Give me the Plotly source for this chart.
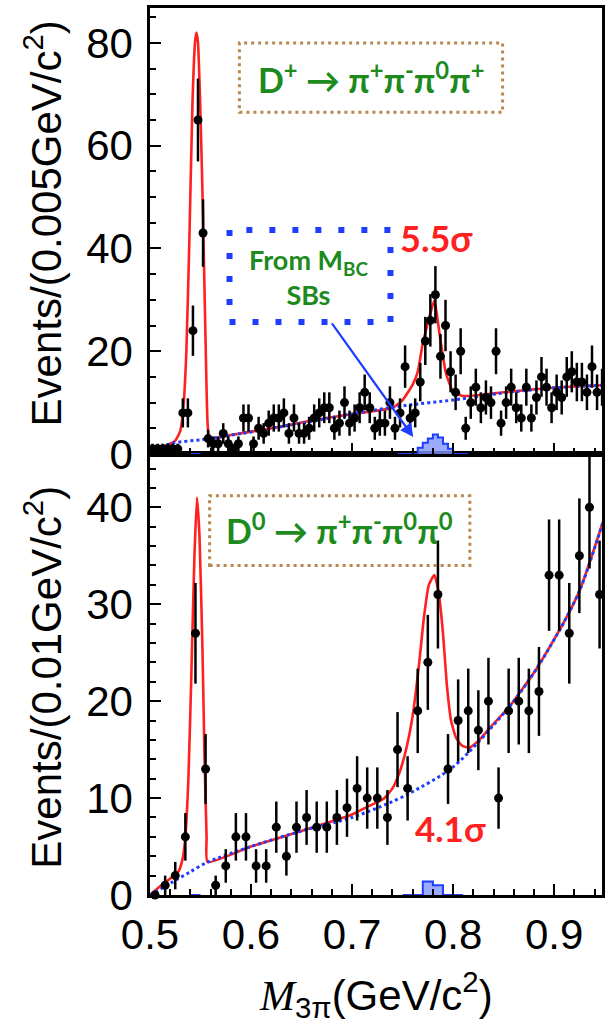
import numpy as np
import plotly.graph_objects as go

# ---------------- data ----------------
# top panel: D+ -> pi+ pi- pi0 pi+, bins of 0.005 GeV from 0.50
top_bin_start = 0.50
top_bin_width = 0.005
top_counts = [1, 1, 1, 1, 1, 1, 8, 8, 24, 65,
              43, 3, 2, 2, 4, 2, 1, 2, 7, 7,
              2, 5, 4, 6, 7, 7, 8, 4, 7, 4,
              4, 5, 7, 8, 9, 9, 5, 6, 10, 6,
              7, 9, 12, 9, 5, 6, 6, 10, 5, 8,
              17, 7, 8, 14, 22, 26, 31, 19, 25, 16,
              12, 20, 5, 10, 13, 9, 11, 10, 20, 6,
              10, 13, 9, 7, 13, 7, 11, 15, 13, 9,
              12, 11, 15, 16, 14, 14, 12, 17, 12, 13]

# bottom panel: D0 -> pi+ pi- pi0 pi0, bins of 0.01 GeV from 0.50
bot_bin_start = 0.50
bot_bin_width = 0.01
bot_counts = [0, 1, 2, 6, 27, 13, 1, 3, 6, 6,
              3, 3, 7, 4, 7, 8, 7, 7, 8, 9,
              11, 10, 10, 8, 15, 11, 19, 24, 31, 13,
              18, 19, 17, 20, 10, 19, 20, 19, 21, 33,
              33, 27, 35, 40, 31]

# fit curves
top_fit_x = [0.500, 0.510, 0.520, 0.525, 0.530, 0.533, 0.536, 0.539, 0.542, 0.5445, 0.546,
             0.5475, 0.550, 0.5525, 0.555, 0.557, 0.559, 0.580, 0.620, 0.660, 0.700, 0.720,
             0.740, 0.750, 0.760, 0.765, 0.770, 0.7765, 0.7815, 0.7865, 0.793, 0.7995,
             0.809, 0.8225, 0.850, 0.900, 0.950]
top_fit_y = [0.5, 1.2, 2.0, 2.6, 4.5, 9, 20, 42, 68, 80, 82,
             80, 66, 46, 22, 6, 3.0, 3.7, 5.0, 6.5, 7.8, 8.3,
             9.0, 10.5, 13.5, 16, 21.5, 26.6, 29.9, 23.5, 15.7, 12.4,
             11.3, 11.4, 12.0, 12.9, 13.4]
top_bkg_x = [0.500, 0.522, 0.552, 0.591, 0.650, 0.700, 0.734, 0.755, 0.800, 0.847, 0.896, 0.950]
top_bkg_y = [0.5, 2.1, 2.8, 4.0, 6.0, 7.8, 8.9, 9.5, 10.5, 11.8, 12.8, 13.4]

bot_fit_x = [0.500, 0.510, 0.520, 0.528, 0.532, 0.535, 0.538, 0.541, 0.544, 0.5465, 0.549,
             0.552, 0.554, 0.556, 0.557, 0.600, 0.650, 0.700, 0.715, 0.731, 0.740, 0.7465,
             0.753, 0.760, 0.766, 0.771, 0.776, 0.7815, 0.786, 0.790, 0.794, 0.798,
             0.803, 0.809, 0.816, 0.826, 0.836, 0.857, 0.883, 0.910, 0.926, 0.950]
bot_fit_y = [0.0, 0.9, 1.7, 2.4, 3.6, 6, 12, 23, 35, 41, 37,
             25, 14, 6, 3.4, 5.0, 6.6, 8.3, 9.1, 9.9, 11.0, 12.5,
             14.8, 18.5, 23.5, 28.5, 32.0, 33.0, 31.0, 27.0, 21.5, 18.0,
             16.2, 15.4, 15.2, 16.0, 17.2, 19.6, 23.4, 28.2, 31.6, 39]
bot_bkg_x = [0.500, 0.520, 0.540, 0.557, 0.600, 0.653, 0.700, 0.737, 0.757, 0.800, 0.857, 0.883, 0.910, 0.926, 0.950]
bot_bkg_y = [0.0, 1.2, 2.4, 3.4, 5.0, 6.7, 8.0, 9.5, 10.5, 13.2, 19.6, 23.4, 28.2, 31.6, 39]

# M_BC sideband histograms (bin edges, contents)
top_sb_edges = [0.745, 0.750, 0.755, 0.760, 0.765, 0.770, 0.775, 0.780, 0.785, 0.790, 0.795, 0.800, 0.805, 0.810, 0.815]
top_sb_counts = [0, 0, 0, 0, 1.2, 2.2, 3.0, 3.8, 3.2, 2.0, 1.0, 0, 0, 0]
top_sb2_edges = [0.540, 0.545, 0.550]
top_sb2_counts = [0, 0]
bot_sb_edges = [0.750, 0.760, 0.770, 0.780, 0.790, 0.800, 0.810]
bot_sb_counts = [0, 0, 1.4, 1.0, 0, 0]
bot_sb2_edges = [0.540, 0.550]
bot_sb2_counts = [0]

# ---------------- figure ----------------
FONT = "Liberation Sans, Arial, Helvetica, sans-serif"
LABFONT = "Lato, Open Sans, sans-serif"
GREEN = "#1d8a1d"
RED = "#ff2020"
BLUE = "#1f3dff"
BROWN = "#b8864e"

def centers(start, width, n):
    return [start + width * (i + 0.5) for i in range(n)]

def step(edges, counts):
    xs, ys = [], []
    for i, c in enumerate(counts):
        xs += [edges[i], edges[i + 1]]
        ys += [c, c]
    return xs, ys

fig = go.Figure()

def add_panel(xa, ya, counts, start, width, fx, fy, bx, by, sbs):
    for edges, cnts in sbs:
        sx, sy = step(edges, cnts)
        fig.add_trace(go.Scatter(x=sx, y=sy, mode="lines", xaxis=xa, yaxis=ya,
                                 line=dict(color=BLUE, width=2), fill="tozeroy",
                                 fillcolor="rgba(130,150,255,0.8)", showlegend=False,
                                 hoverinfo="skip"))
    fig.add_trace(go.Scatter(x=fx, y=fy, mode="lines", xaxis=xa, yaxis=ya,
                             line=dict(color=RED, width=2.6, shape="spline", smoothing=0.5),
                             showlegend=False))
    fig.add_trace(go.Scatter(x=bx, y=by, mode="lines", xaxis=xa, yaxis=ya,
                             line=dict(color=BLUE, width=3, dash="dot", shape="spline", smoothing=0.8),
                             showlegend=False))
    xc = centers(start, width, len(counts))
    err = np.sqrt(np.array(counts, dtype=float))
    fig.add_trace(go.Scatter(x=xc, y=counts, mode="markers", xaxis=xa, yaxis=ya,
                             marker=dict(color="black", size=9),
                             error_y=dict(type="data", array=err, width=0, thickness=2.5, color="black"),
                             showlegend=False, cliponaxis=False))

add_panel("x2", "y2", top_counts, top_bin_start, top_bin_width, top_fit_x, top_fit_y,
          top_bkg_x, top_bkg_y, [(top_sb_edges, top_sb_counts), (top_sb2_edges, top_sb2_counts)])
add_panel("x", "y", bot_counts, bot_bin_start, bot_bin_width, bot_fit_x, bot_fit_y,
          bot_bkg_x, bot_bkg_y, [(bot_sb_edges, bot_sb_counts), (bot_sb2_edges, bot_sb2_counts)])

XR = [0.5, 0.9474]
split = 0.4972
axis_common = dict(showline=True, linewidth=2.5, linecolor="black", mirror=True,
                   ticks="inside", tickwidth=2, tickcolor="black", showgrid=False,
                   zeroline=False, tickfont=dict(family=FONT, size=42, color="black"))

fig.update_layout(
    width=608, height=1023,
    margin=dict(l=150, r=3, t=8, b=128),
    plot_bgcolor="white", paper_bgcolor="white",
    xaxis=dict(domain=[0, 1], anchor="y", range=XR, dtick=0.1, tick0=0.5, ticklen=11,
               minor=dict(ticks="inside", dtick=0.02, tick0=0.5, ticklen=6, tickwidth=1.5, tickcolor="black"),
               ticklabelstandoff=1, **axis_common),
    xaxis2=dict(domain=[0, 1], anchor="y2", matches="x", range=XR, dtick=0.1, tick0=0.5, ticklen=11,
                showticklabels=False,
                minor=dict(ticks="inside", dtick=0.02, tick0=0.5, ticklen=6, tickwidth=1.5, tickcolor="black"),
                **axis_common),
    yaxis=dict(domain=[0, split], anchor="x", range=[0, 45.5], dtick=10, ticklen=11,
               minor=dict(ticks="inside", dtick=2, ticklen=6, tickwidth=1.5, tickcolor="black"),
               ticklabelstandoff=6, **axis_common),
    yaxis2=dict(domain=[split, 1], anchor="x2", range=[0, 86.8], dtick=20, ticklen=11,
                minor=dict(ticks="inside", dtick=5, ticklen=6, tickwidth=1.5, tickcolor="black"),
                ticklabelstandoff=6, **axis_common),
)

annotations = [
    dict(text="Events/(0.005GeV/c<sup>2</sup>)", xref="paper", yref="paper", x=-0.237, y=0.757,
         textangle=-90, showarrow=False, font=dict(family=FONT, size=42, color="black"),
         xanchor="center", yanchor="middle"),
    dict(text="Events/(0.01GeV/c<sup>2</sup>)", xref="paper", yref="paper", x=-0.237, y=0.246,
         textangle=-90, showarrow=False, font=dict(family=FONT, size=42, color="black"),
         xanchor="center", yanchor="middle"),
    dict(text="<span style=\"font-family:'Liberation Serif'\"><i>M</i></span><sub>3π</sub>(GeV/c<sup>2</sup>)",
         xref="paper", yref="paper", x=0.499, y=-0.112, showarrow=False,
         font=dict(family=FONT, size=42, color="black"), xanchor="center", yanchor="middle"),
    dict(text="<b>D<sup>+</sup> → π<sup>+</sup>π<sup>-</sup>π<sup>0</sup>π<sup>+</sup></b>",
         xref="x2", yref="y2", x=0.7183, y=73.2, showarrow=False,
         font=dict(family=LABFONT, size=34, color=GREEN)),
    dict(text="<b>From M<sub>BC</sub><br>SBs</b>", xref="x2", yref="y2", x=0.657, y=34.4,
         showarrow=False, font=dict(family=LABFONT, size=27, color=GREEN)),
    dict(text="<b>5.5σ</b>", xref="x2", yref="y2", x=0.784, y=42.0, showarrow=False,
         font=dict(family=LABFONT, size=36, color=RED)),
    dict(text="<b>D<sup>0</sup> → π<sup>+</sup>π<sup>-</sup>π<sup>0</sup>π<sup>0</sup></b>",
         xref="x", yref="y", x=0.6878, y=37.8, showarrow=False,
         font=dict(family=LABFONT, size=34, color=GREEN)),
    dict(text="<b>4.1σ</b>", xref="x", yref="y", x=0.797, y=6.9, showarrow=False,
         font=dict(family=LABFONT, size=35, color=RED)),
    dict(text="", xref="x2", yref="y2", x=0.7606, y=3.3, axref="x2", ayref="y2",
         ax=0.679, ay=25.7, showarrow=True, arrowhead=2, arrowsize=1.2, arrowwidth=2.2,
         arrowcolor=BLUE),
]
fig.update_layout(annotations=annotations)

shapes = [
    dict(type="rect", xref="x2", yref="y2", x0=0.5885, x1=0.849, y0=66.5, y1=80.0,
         line=dict(color=BROWN, width=3, dash="3px,4px")),
    dict(type="rect", xref="x", yref="y", x0=0.559, x1=0.8166, y0=34.0, y1=41.2,
         line=dict(color=BROWN, width=3, dash="3px,4px")),
    dict(type="rect", xref="x2", yref="y2", x0=0.5787, x1=0.738, y0=25.7, y1=43.6,
         line=dict(color=BLUE, width=6, dash="6px,17px")),
]
fig.update_layout(shapes=shapes)

fig.write_html("out.html")
